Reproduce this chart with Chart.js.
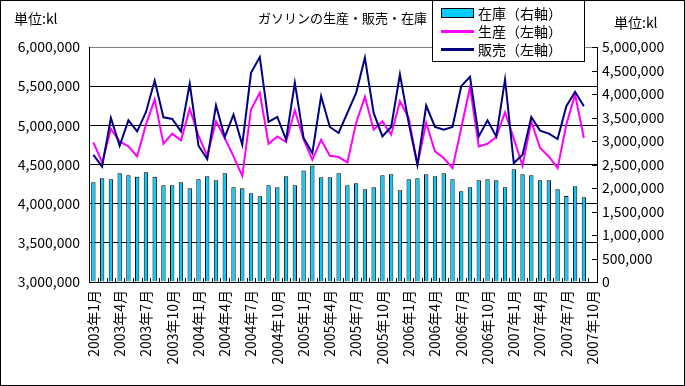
<!DOCTYPE html>
<html>
<head>
<meta charset="utf-8">
<script src="https://cdn.jsdelivr.net/npm/chart.js@4"></script>
<style>
  html, body { margin: 0; padding: 0; background: #fff; }
  #wrap { position: relative; width: 685px; height: 386px; }
  #frame { position: absolute; left: 0; top: 0; width: 685px; height: 386px; box-sizing: border-box; border: 1px solid #000; pointer-events: none; }
  .txt { position: absolute; font-family: "Noto Sans CJK JP", sans-serif; color: #000; white-space: nowrap; line-height: 1; }
  #legend { position: absolute; left: 432px; top: 0; width: 153px; height: 62px; box-sizing: border-box; border: 1px solid #000; background: #fff; }
  .item { position: absolute; left: 8px; width: 140px; height: 16px; font-family: "Noto Sans CJK JP", sans-serif; font-size: 14px; line-height: 16px; white-space: nowrap; }
  .sw { position: absolute; left: 0; width: 33px; }
  .item span { position: absolute; left: 37px; top: 0; white-space: nowrap; }
</style>
</head>
<body>
<div id="wrap">
  <canvas id="chart" width="685" height="386"></canvas>
  <div class="txt" style="left:14px;top:11px;font-size:14px;">単位:kl</div>
  <div class="txt" style="left:614px;top:15px;font-size:14px;">単位:kl</div>
  <div class="txt" style="left:258px;top:11px;font-size:13px;">ガソリンの生産・販売・在庫</div>
  <div id="legend"></div>
  <div id="frame"></div>
</div>
<script>
// 月 (2003年1月 - 2007年10月)
const months = [
  '2003年1月','2003年2月','2003年3月','2003年4月','2003年5月','2003年6月','2003年7月','2003年8月','2003年9月','2003年10月','2003年11月','2003年12月',
  '2004年1月','2004年2月','2004年3月','2004年4月','2004年5月','2004年6月','2004年7月','2004年8月','2004年9月','2004年10月','2004年11月','2004年12月',
  '2005年1月','2005年2月','2005年3月','2005年4月','2005年5月','2005年6月','2005年7月','2005年8月','2005年9月','2005年10月','2005年11月','2005年12月',
  '2006年1月','2006年2月','2006年3月','2006年4月','2006年5月','2006年6月','2006年7月','2006年8月','2006年9月','2006年10月','2006年11月','2006年12月',
  '2007年1月','2007年2月','2007年3月','2007年4月','2007年5月','2007年6月','2007年7月','2007年8月','2007年9月','2007年10月'
];

// 在庫 (右軸, kl)
const stock = [
  2124000, 2209000, 2188000, 2316000, 2273000, 2237000, 2337000, 2237000, 2060000, 2060000, 2124000, 1996000,
  2188000, 2252000, 2166000, 2316000, 2017000, 1996000, 1889000, 1825000, 2060000, 2017000, 2252000, 2060000,
  2372000, 2479000, 2231000, 2231000, 2316000, 2060000, 2103000, 1974000, 2017000, 2273000, 2295000, 1953000,
  2188000, 2209000, 2295000, 2252000, 2316000, 2188000, 1931000, 2017000, 2166000, 2188000, 2166000, 2017000,
  2401000, 2295000, 2273000, 2166000, 2166000, 1974000, 1831000, 2038000, 1803000, null
];

// 生産 (左軸, kl)
const production = [
  4782000, 4526000, 4954000, 4795000, 4731000, 4603000, 5009000, 5329000, 4765000, 4894000, 4808000, 5210000,
  4868000, 4611000, 5051000, 4838000, 4603000, 4355000, 5201000, 5415000, 4765000, 4859000, 4787000, 5192000,
  4820000, 4560000, 4816000, 4611000, 4595000, 4526000, 5031000, 5364000, 4945000, 5051000, 4881000, 5308000,
  5095000, 4496000, 5031000, 4667000, 4582000, 4454000, 4966000, 5487000, 4731000, 4765000, 4851000, 5167000,
  4830000, 4483000, 5051000, 4710000, 4603000, 4454000, 5010000, 5394000, 4838000, null
];

// 販売 (左軸, kl)
const sales = [
  4624000, 4474000, 5095000, 4740000, 5064000, 4923000, 5167000, 5573000, 5103000, 5082000, 4923000, 5531000,
  4740000, 4569000, 5253000, 4851000, 5137000, 4753000, 5671000, 5872000, 5043000, 5107000, 4816000, 5543000,
  4838000, 4646000, 5372000, 4979000, 4902000, 5159000, 5415000, 5864000, 5159000, 4859000, 4979000, 5650000,
  5031000, 4496000, 5253000, 4979000, 4945000, 4979000, 5500000, 5620000, 4859000, 5064000, 4859000, 5586000,
  4518000, 4624000, 5107000, 4932000, 4894000, 4825000, 5244000, 5428000, 5244000, null
];

const tickFont = { family: '"Noto Sans CJK JP", sans-serif', size: 14 };
const fmt = v => Number(v).toLocaleString('en-US');

// 内向きの目盛り線
const innerTicks = {
  id: 'innerTicks',
  afterDraw(chart) {
    const { ctx, chartArea: a, scales } = chart;
    const x = scales.x, y1 = scales.y1;
    ctx.save();
    ctx.strokeStyle = '#000';
    ctx.lineWidth = 1;
    ctx.beginPath();
    for (let i = 0; i <= months.length; i++) {
      const px = Math.round(x.getPixelForValue(i - 0.5)) + 0.5;
      ctx.moveTo(px, a.bottom);
      ctx.lineTo(px, a.bottom - 4);
    }
    y1.ticks.forEach(t => {
      const py = Math.round(y1.getPixelForValue(t.value)) + 0.5;
      ctx.moveTo(a.right, py);
      ctx.lineTo(a.right - 5, py);
    });
    ctx.stroke();
    ctx.restore();
  }
};

const chart = new Chart(document.getElementById('chart').getContext('2d'), {
  data: {
    labels: months,
    datasets: [
      { type: 'line', label: '販売（左軸）', data: sales, yAxisID: 'y', borderColor: '#000080', backgroundColor: '#000080',
        borderWidth: 2, pointRadius: 0, tension: 0, order: 1 },
      { type: 'line', label: '生産（左軸）', data: production, yAxisID: 'y', borderColor: '#FF00FF', backgroundColor: '#FF00FF',
        borderWidth: 2, pointRadius: 0, tension: 0, order: 2 },
      { type: 'bar', label: '在庫（右軸）', data: stock, yAxisID: 'y1', backgroundColor: '#00CCFF', borderColor: '#000',
        borderWidth: 1, barPercentage: 0.5, categoryPercentage: 1, order: 3 }
    ]
  },
  options: {
    responsive: false,
    animation: false,
    layout: { padding: { top: 47, left: 0, right: 0, bottom: 0 } },
    plugins: { legend: { display: false }, tooltip: { enabled: false }, title: { display: false } },
    scales: {
      x: {
        offset: true,
        grid: { display: false, drawTicks: false },
        border: { color: '#000' },
        ticks: {
          autoSkip: false, maxRotation: 90, minRotation: 90, padding: 8, color: '#000', font: tickFont,
          callback(v, i) { return i % 3 === 0 ? this.getLabelForValue(v) : ''; }
        },
        afterFit(s) { s.height = 104; }
      },
      y: {
        position: 'left', min: 3000000, max: 6000000,
        ticks: { stepSize: 500000, padding: 9, color: '#000', font: tickFont, callback: fmt },
        grid: { drawTicks: false, color: c => (c.tick && c.tick.value === 6000000) ? '#808080' : '#000' },
        border: { color: '#000' },
        afterFit(s) { s.width = 89; }
      },
      y1: {
        position: 'right', min: 0, max: 5000000,
        ticks: { stepSize: 500000, padding: 5, color: '#000', font: tickFont, callback: fmt },
        grid: { drawOnChartArea: false, drawTicks: false },
        border: { color: '#000' },
        afterFit(s) { s.width = 88; }
      }
    }
  },
  plugins: [innerTicks]
});

// 凡例 (グラフのデータセットから作る)
const legend = document.getElementById('legend');
const legendOrder = [2, 1, 0];
legendOrder.forEach((di, row) => {
  const ds = chart.data.datasets[di];
  const item = document.createElement('div');
  item.className = 'item';
  item.style.top = (4 + row * 18) + 'px';
  const sw = document.createElement('div');
  sw.className = 'sw';
  if (ds.type === 'bar') {
    sw.style.cssText += 'top:3px;height:10px;box-sizing:border-box;border:1px solid #000;background:' + ds.backgroundColor + ';';
  } else {
    sw.style.cssText += 'top:7px;height:3px;background:' + ds.borderColor + ';';
  }
  const label = document.createElement('span');
  label.textContent = ds.label;
  item.appendChild(sw);
  item.appendChild(label);
  legend.appendChild(item);
});
</script>
</body>
</html>
